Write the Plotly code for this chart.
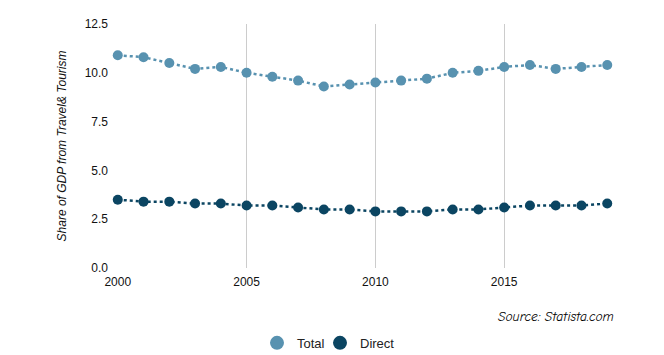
import plotly.graph_objects as go

years = list(range(2000, 2020))
total = [10.9, 10.8, 10.5, 10.2, 10.3, 10.0, 9.8, 9.6, 9.3, 9.4,
         9.5, 9.6, 9.7, 10.0, 10.1, 10.3, 10.4, 10.2, 10.3, 10.4]
direct = [3.5, 3.4, 3.4, 3.3, 3.3, 3.2, 3.2, 3.1, 3.0, 3.0,
          2.9, 2.9, 2.9, 3.0, 3.0, 3.1, 3.2, 3.2, 3.2, 3.3]
x_ticks = [2000, 2005, 2010, 2015]
y_ticks = [0, 2.5, 5, 7.5, 10, 12.5]

c_total = "#5892b0"
c_direct = "#0b4562"

fig = go.Figure()
for name, vals, col, lg in [("Total", total, c_total, "legend"),
                            ("Direct", direct, c_direct, "legend2")]:
    fig.add_trace(go.Scatter(x=years, y=vals, name=name, mode="lines+markers",
                             line=dict(color=col, width=2.5, dash="dot"),
                             marker=dict(color=col, size=10), cliponaxis=False,
                             showlegend=False, legendgroup=name))
    fig.add_trace(go.Scatter(x=[None], y=[None], name=name, mode="markers",
                             marker=dict(color=col, size=14), legendgroup=name,
                             legend=lg))

leg_font = dict(size=13, color="#222222")
clear = "rgba(0,0,0,0)"
# page has an 8px body margin, so the figure is 8px smaller and offset
fig.update_layout(
    width=656, height=347,
    margin=dict(l=109, r=31, t=16, b=87, autoexpand=False),
    paper_bgcolor="white", plot_bgcolor="white",
    font=dict(family="Liberation Sans, Arial", size=12, color="#111111"),
    showlegend=True,
    legend=dict(orientation="h", x=0.2713, xanchor="left", y=-0.307, yanchor="middle",
                font=leg_font, bgcolor=clear),
    legend2=dict(orientation="h", x=0.3934, xanchor="left", y=-0.307, yanchor="middle",
                 font=leg_font, bgcolor=clear),
    xaxis=dict(range=[1999.97, 2020], tickvals=x_ticks, showgrid=True, automargin=False,
               gridcolor="#cccccc", gridwidth=1, zeroline=False, showline=False,
               ticks="", tickfont=dict(size=12), ticklabelstandoff=5),
    yaxis=dict(range=[0, 12.5], tickvals=y_ticks, tickformat=".1f", showgrid=False,
               automargin=False, zeroline=False, showline=False, ticks="",
               tickfont=dict(size=12), ticklabelstandoff=8,
               title=dict(text="Share of GDP from Travel& Tourism",
                          font=dict(size=12, style="italic"), standoff=15)),
    annotations=[dict(text="<i>Source: Statista.com</i>", xref="paper", yref="paper",
                      x=0.967, y=-0.2, xanchor="right", yanchor="middle", showarrow=False,
                      font=dict(family="Comic Sans MS, Comic Neue, DejaVu Sans", size=13.5,
                                color="#000000"))],
)

fig.write_html("out.html")
